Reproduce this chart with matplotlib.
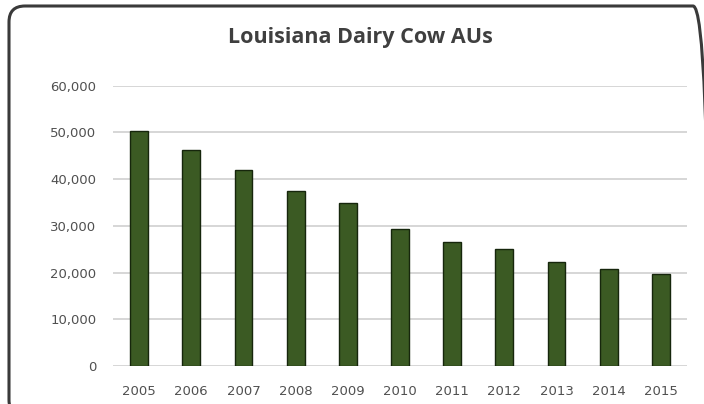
import matplotlib.pyplot as plt
from matplotlib.patches import FancyBboxPatch
from matplotlib.ticker import FuncFormatter

# Louisiana dairy cow animal units by year
years = ['2005', '2006', '2007', '2008', '2009', '2010',
         '2011', '2012', '2013', '2014', '2015']
animal_units = [50300, 46250, 41900, 37550, 34850, 29350,
                26600, 25000, 22350, 20700, 19650]

fig = plt.figure(figsize=(7.04, 4.04), dpi=100)
W, H = 704, 404

# rounded frame around the whole chart (pixel units, origin bottom-left)
frame = FancyBboxPatch((9, -12), 700, 410,
                       boxstyle='round,pad=0,rounding_size=16',
                       transform=None, facecolor='none',
                       edgecolor='#3a3a3a', linewidth=2.2, zorder=5)
fig.patches.append(frame)

ax = fig.add_axes([113 / W, (H - 366) / H, (687 - 113) / W, (366 - 85.7) / H])
ax.set_facecolor('none')

x = range(len(years))
ax.bar(x, animal_units, width=0.34, color='#3b5a23',
       edgecolor='#16260c', linewidth=1.0, zorder=3)

ax.set_xlim(-0.5, len(years) - 0.5)
ax.set_ylim(0, 60000)
ax.set_yticks(range(0, 60001, 10000))
ax.yaxis.set_major_formatter(FuncFormatter(lambda v, p: f'{int(v):,}'))
ax.set_xticks(list(x))
ax.set_xticklabels(years)

ax.grid(axis='y', color='#d6d6d6', linewidth=1.4, zorder=0)
for s in ax.spines.values():
    s.set_visible(False)
ax.tick_params(axis='both', length=0, labelsize=9.5, labelcolor='#505050')
ax.tick_params(axis='y', pad=12)
ax.tick_params(axis='x', pad=14)

fig.text(360 / W, 1 - 37 / H, 'Louisiana Dairy Cow AUs', ha='center', va='center',
         fontsize=15.5, fontweight='bold', color='#3f3f3f', family='Open Sans')

plt.savefig('out.png', dpi=100)
